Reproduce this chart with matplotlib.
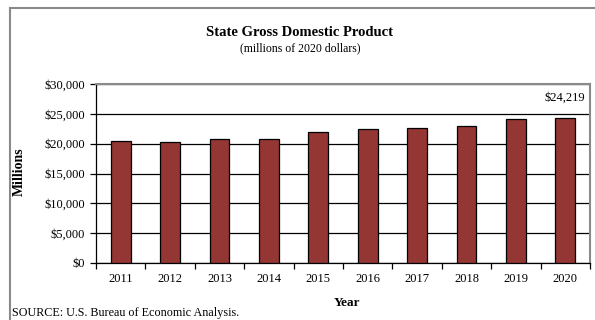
import matplotlib
matplotlib.use("Agg")
import matplotlib.pyplot as plt
from matplotlib.lines import Line2D
from matplotlib.ticker import FuncFormatter, MultipleLocator
import numpy as np

# ── Data ────────────────────────────────────────────────────────────────
YEARS = ["2011", "2012", "2013", "2014", "2015", "2016", "2017", "2018", "2019", "2020"]
GDP_MILLIONS = [20400, 20300, 20700, 20800, 21900, 22500, 22700, 23000, 24100, 24219]

TITLE = "State Gross Domestic Product"
SUBTITLE = "(millions of 2020 dollars)"
SOURCE = "SOURCE: U.S. Bureau of Economic Analysis."

BAR_COLOR = "#943634"
FRAME_GRAY = "#8a8a8a"

plt.rcParams["font.family"] = ["Liberation Serif", "DejaVu Serif"]

fig = plt.figure(figsize=(5.95, 3.2), dpi=100)
W, H = 595, 320

# outer chart frame (cropped on the right and bottom)
fig.add_artist(Line2D([10 / W, 10 / W], [0, 1 - 8 / H], color=FRAME_GRAY, lw=1.5))
fig.add_artist(Line2D([10 / W, 1.0], [1 - 8 / H, 1 - 8 / H], color=FRAME_GRAY, lw=1.5))

left, right, bottom, top = 96 / W, 590 / W, 1 - 263 / H, 1 - 84 / H
ax = fig.add_axes([left, bottom, right - left, top - bottom])

x = np.arange(len(YEARS))
ax.bar(x, GDP_MILLIONS, width=0.4, color=BAR_COLOR, edgecolor="black",
       linewidth=0.9, zorder=3)

ax.set_xlim(-0.5, len(YEARS) - 0.5)
ax.set_ylim(0, 30000)
ax.yaxis.set_major_locator(MultipleLocator(5000))
ax.yaxis.set_major_formatter(FuncFormatter(lambda v, _: f"${v:,.0f}"))
ax.yaxis.grid(True, color="black", linewidth=0.9, zorder=0)
ax.set_axisbelow(True)

ax.set_xticks(x)
ax.set_xticklabels(YEARS)
ax.set_xticks(np.arange(-0.5, len(YEARS)), minor=True)
ax.tick_params(axis="x", which="major", length=0, pad=7, labelsize=9)
ax.tick_params(axis="x", which="minor", length=4, width=0.9, direction="out")
ax.tick_params(axis="y", length=4, width=0.9, direction="out", labelsize=9, pad=4)

for side in ("top", "right"):
    ax.spines[side].set_color(FRAME_GRAY)
    ax.spines[side].set_linewidth(1.5)
for side in ("left", "bottom"):
    ax.spines[side].set_color("black")
    ax.spines[side].set_linewidth(0.9)

# value label on the last bar
ax.annotate(f"${GDP_MILLIONS[-1]:,}", xy=(x[-1], GDP_MILLIONS[-1]),
            xytext=(0, 15), textcoords="offset points",
            ha="center", va="center", fontsize=9)

fig.text(300 / W, 1 - 32 / H, TITLE, ha="center", va="center",
         fontsize=10.5, fontweight="bold")
fig.text(300 / W, 1 - 48 / H, SUBTITLE, ha="center", va="center", fontsize=8.5)
fig.text(19 / W, 1 - 172 / H, "Millions", ha="center", va="center",
         rotation=90, fontsize=10, fontweight="bold")
fig.text(347 / W, 1 - 303 / H, "Year", ha="center", va="center",
         fontsize=9.5, fontweight="bold")
fig.text(12 / W, 1 - 313 / H, SOURCE, ha="left", va="center", fontsize=8.7)

fig.savefig("out.png", dpi=100)
